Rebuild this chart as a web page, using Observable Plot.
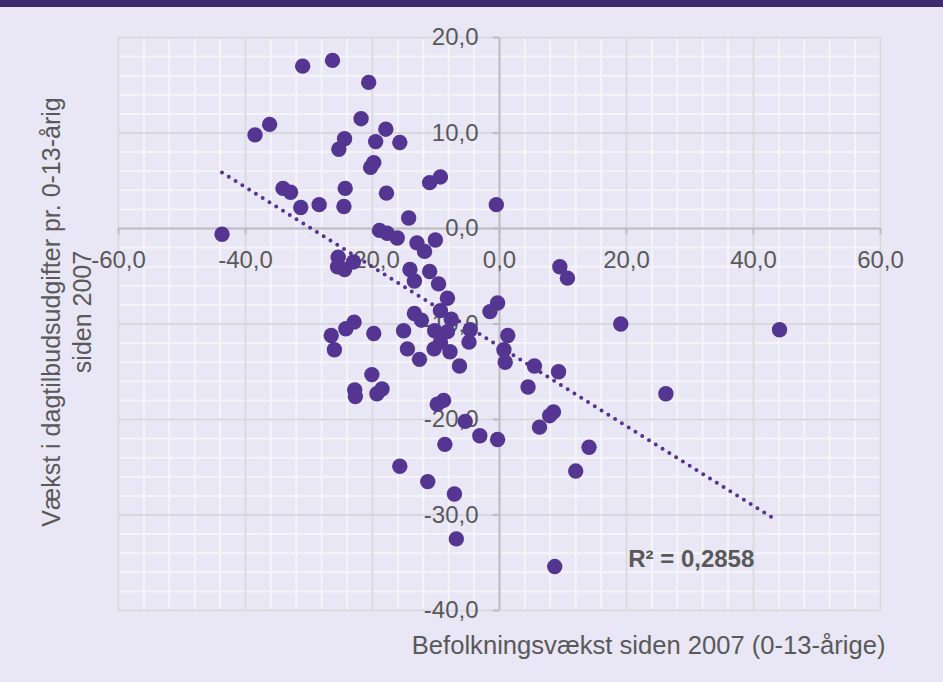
<!DOCTYPE html>
<html>
<head>
<meta charset="utf-8">
<script src="https://cdn.jsdelivr.net/npm/d3@7"></script>
<script src="https://cdn.jsdelivr.net/npm/@observablehq/plot@0.6"></script>
<style>
  html, body { margin: 0; padding: 0; background: #e9e6f5; }
  #band { height: 7px; background: #402a6f; }
  #chart svg { display: block; }
</style>
</head>
<body>
<div id="band"></div>
<div id="chart"></div>
<script>
// Befolkningsvækst siden 2007 (0-13-årige), %
const growthPop = [
  -31.0, -26.3, -20.6, -36.2, -38.5, -21.8, -17.9, -24.4, -19.5, -15.7,
  -25.3, -19.8, -20.3, -11.0, -9.3, -34.1, -32.9, -24.3, -17.8, -31.3,
  -28.4, -24.5, -0.5, -14.3, -43.7, -18.9, -17.7, -16.1, -13.0, -10.1,
  -11.8, -25.4, -25.5, -24.4, -23.0, -14.1, -13.4, -11.0, -9.6, -8.2,
  -9.3, -0.3, -1.5, -13.4, -12.3, -7.6, 9.5, 10.7,
  -22.9, -24.2, -26.5, -26.0, -19.8, -15.1, -10.2, -8.2, -4.6, -4.8,
  -14.5, -10.3, -9.3, -7.8, -12.6, -6.3, 1.3, 0.7, 0.9, 19.1,
  44.1, 5.5, 9.3, 4.5, 26.2,
  -20.1, -22.8, -22.7, -18.5, -19.3, -9.8, -8.8, -5.4, -3.1, -0.3,
  -8.6, 8.5, 7.9, 6.3, 14.1, 12.0, -15.7, -11.3, -7.1, -6.8, 8.7
];
// Vækst i dagtilbudsudgifter pr. 0-13-årig siden 2007, %
const growthSpend = [
  17.0, 17.6, 15.3, 10.9, 9.8, 11.5, 10.4, 9.4, 9.1, 9.0,
  8.3, 6.9, 6.4, 4.8, 5.4, 4.2, 3.8, 4.2, 3.7, 2.2,
  2.5, 2.3, 2.5, 1.1, -0.6, -0.2, -0.5, -1.0, -1.5, -1.2,
  -2.4, -3.0, -4.0, -4.3, -3.5, -4.3, -5.5, -4.5, -5.8, -7.3,
  -8.6, -7.8, -8.7, -8.9, -9.6, -9.5, -4.0, -5.2,
  -9.8, -10.5, -11.2, -12.7, -11.0, -10.7, -10.7, -10.8, -10.6, -11.9,
  -12.6, -12.6, -11.9, -12.9, -13.7, -14.4, -11.2, -12.7, -14.0, -10.0,
  -10.6, -14.4, -15.0, -16.6, -17.3,
  -15.3, -16.9, -17.6, -16.8, -17.3, -18.4, -18.0, -20.2, -21.7, -22.1,
  -22.6, -19.2, -19.6, -20.8, -22.9, -25.4, -24.9, -26.5, -27.8, -32.5, -35.4
];
// Lineær trendlinje (endepunkter aflæst)
const trendX = [-43.7, 43.5];
const trendY = [5.86, -30.5];
const r2Label = "R² = 0,2858";

const xTicks = [-60, -40, -20, 0, 20, 40, 60];
const yTicks = [-40, -30, -20, -10, 0, 10, 20];
const xTitle = "Befolkningsvækst siden 2007 (0-13-årige)";
const yTitle = "Vækst i dagtilbudsudgifter pr. 0-13-årig\nsiden 2007";

const points = growthPop.map((x, i) => ({x, y: growthSpend[i]}));
const trend = trendX.map((x, i) => ({x, y: trendY[i]}));
const fmt = v => v.toFixed(1).replace(".", ",");

const minorX = d3.range(-60, 60.01, 4);
const minorY = d3.range(-40, 20.01, 2);
const majorX = d3.range(-60, 60.01, 20);
const majorY = d3.range(-40, 20.01, 10);

const textColor = "#595959";
const axisColor = "#bdbcc4";
const font = "Liberation Sans, Arial, Helvetica, sans-serif";

const chart = Plot.plot({
  width: 943,
  height: 675,
  marginLeft: 118,
  marginRight: 63,
  marginTop: 30,
  marginBottom: 72,
  style: {background: "transparent", fontFamily: font},
  x: {type: "linear", domain: [-60, 60], axis: null},
  y: {type: "linear", domain: [-40, 20], axis: null},
  marks: [
    Plot.ruleX(minorX, {x: d => d, stroke: "#f5f4f9", strokeWidth: 2}),
    Plot.ruleY(minorY, {y: d => d, stroke: "#f5f4f9", strokeWidth: 2}),
    Plot.ruleX(majorX, {x: d => d, stroke: "#d9d8de", strokeWidth: 2}),
    Plot.ruleY(majorY, {y: d => d, stroke: "#d9d8de", strokeWidth: 2}),
    Plot.ruleY([0], {y: d => d, stroke: axisColor, strokeWidth: 2}),
    Plot.ruleX([0], {x: d => d, stroke: axisColor, strokeWidth: 2}),
    // tick marks (x below the axis, y left of the axis)
    Plot.ruleX(xTicks, {x: d => d, y1: 0, y2: -0.65, stroke: axisColor, strokeWidth: 2}),
    Plot.ruleY(yTicks, {y: d => d, x1: 0, x2: -0.95, stroke: axisColor, strokeWidth: 2}),
    Plot.text(xTicks, {x: d => d, y: 0, text: d => fmt(d), dy: 22, lineAnchor: "top",
      fill: textColor, fontSize: 24, fontFamily: font}),
    Plot.text(yTicks, {x: 0, y: d => d, text: d => fmt(d), dx: -21, textAnchor: "end",
      fill: textColor, fontSize: 24, fontFamily: font}),
    Plot.dot(points, {x: "x", y: "y", r: 7.7, fill: "#553592", stroke: "none"}),
    Plot.line(trend, {x: "x", y: "y", stroke: "#553592", strokeWidth: 4,
      strokeDasharray: "0 8", strokeLinecap: "round"}),
    Plot.text([r2Label], {x: 30.2, y: -34.6, text: d => d, textAnchor: "middle",
      fill: textColor, fontSize: 24, fontWeight: "bold", fontFamily: font}),
    Plot.text([xTitle], {frameAnchor: "bottom-right", text: d => d, dx: 5, dy: 25,
      lineAnchor: "top", textAnchor: "end", fill: textColor, fontSize: 25.6, fontFamily: font}),
    Plot.text([yTitle], {frameAnchor: "left", text: d => d, dx: -53, dy: -12,
      rotate: -90, lineHeight: 1.24, textAnchor: "middle", lineAnchor: "middle",
      fill: textColor, fontSize: 25, fontFamily: font})
  ]
});

document.getElementById("chart").appendChild(chart);
</script>
</body>
</html>
